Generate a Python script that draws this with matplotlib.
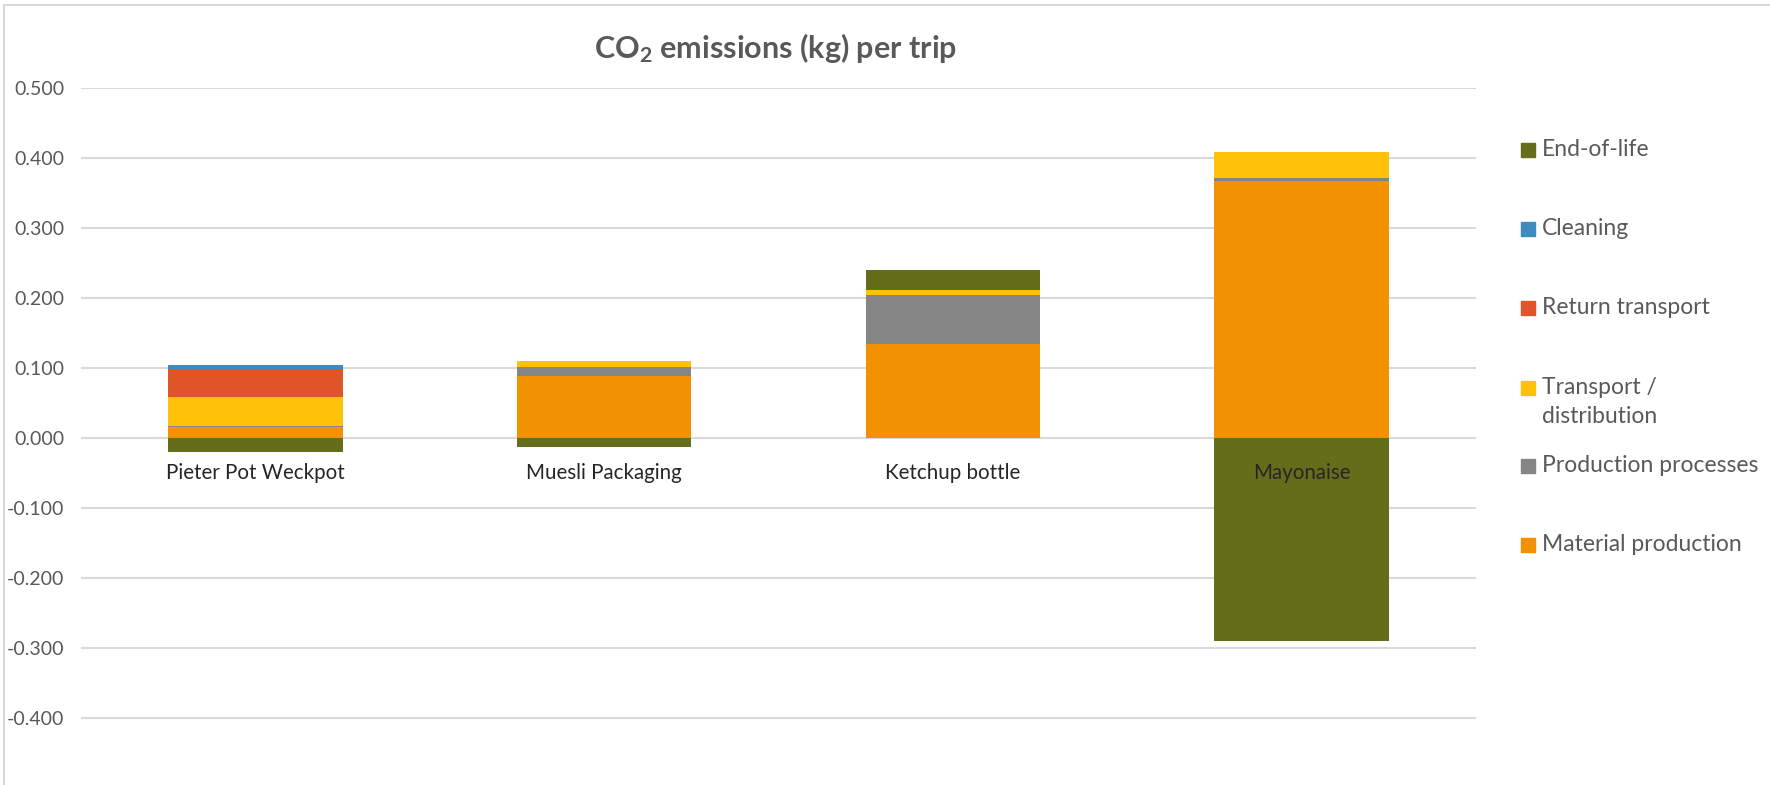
import matplotlib
matplotlib.use("Agg")
import matplotlib.pyplot as plt
import numpy as np
from matplotlib.patches import Rectangle

plt.rcParams['font.family'] = ['Lato', 'DejaVu Sans']
plt.rcParams['mathtext.default'] = 'regular'

categories = ["Pieter Pot Weckpot", "Muesli Packaging", "Ketchup bottle", "Mayonaise"]
series_names = ["Material production", "Production processes", "Transport /\ndistribution",
                "Return transport", "Cleaning", "End-of-life"]
material = [0.016, 0.089, 0.135, 0.367]
production = [0.001, 0.013, 0.070, 0.004]
transport = [0.041, 0.008, 0.007, 0.038]
return_transport = [0.040, 0.0, 0.0, 0.0]
cleaning = [0.006, 0.0, 0.0, 0.0]
end_of_life = [-0.020, -0.013, 0.028, -0.290]
series_values = [material, production, transport, return_transport, cleaning, end_of_life]
colors = ["#F39200", "#858585", "#FFC10A", "#E0542A", "#3D8BBF", "#646D1A"]
yticks = [-0.4, -0.3, -0.2, -0.1, 0.0, 0.1, 0.2, 0.3, 0.4, 0.5]

W, H = 1770, 785
fig = plt.figure(figsize=(W / 100, H / 100), dpi=100)
ax_left, ax_right = 81 / W, 1476 / W
ax_top = 1 - 88 / H
ax = fig.add_axes([ax_left, 0, ax_right - ax_left, ax_top])
ymax = 0.5
ymin = ymax - (H - 88) / 700.0
ax.set_ylim(ymin, ymax)
ax.set_xlim(-0.5, len(categories) - 0.5)
ax.set_axisbelow(False)

x = np.arange(len(categories))
pos_base = np.zeros(len(categories))
neg_base = np.zeros(len(categories))
for vals, col in zip(series_values, colors):
    v = np.array(vals)
    bottoms = np.where(v >= 0, pos_base, neg_base)
    ax.bar(x, v, width=0.5, bottom=bottoms, color=col, edgecolor='none', zorder=2)
    pos_base = pos_base + np.where(v > 0, v, 0)
    neg_base = neg_base + np.where(v < 0, v, 0)

for t in yticks:
    ax.axhline(t, color="#D9D9D9", lw=1.5, zorder=0)

ax.set_yticks(yticks)
ax.set_yticklabels([f"{t:.3f}" for t in yticks])
ax.tick_params(axis='y', length=0, pad=12, labelsize=14, labelcolor="#595959")

ax.set_xticks(x)
ax.set_xticklabels(categories)
ax.spines['bottom'].set_position(('data', 0))
ax.tick_params(axis='x', length=0, pad=18, labelsize=14.8, labelcolor="#262626")
for s in ax.spines.values():
    s.set_visible(False)
ax.set_facecolor('none')

fig.text(776 / W, 1 - 48 / H, "CO$_{2}$ emissions (kg) per trip", ha='center', va='center',
         fontsize=22, fontweight='bold', color="#595959")

# legend (reverse order, top to bottom)
leg_y = [150, 229, 308, 388, 466, 545]
for name, col, yc in zip(series_names[::-1], colors[::-1], leg_y):
    fig.add_artist(Rectangle((1521 / W, 1 - (yc + 7) / H), 14 / W, 14 / H,
                             transform=fig.transFigure, color=col))
    fig.text(1542 / W, 1 - (yc - 11) / H, name, ha='left', va='top', fontsize=16.5,
             color="#595959", linespacing=1.45)

# chart border
fig.add_artist(plt.Line2D([4 / W, 4 / W], [0, 1 - 5 / H], transform=fig.transFigure, color="#D9D9D9", lw=1.5))
fig.add_artist(plt.Line2D([4 / W, 1], [1 - 5 / H, 1 - 5 / H], transform=fig.transFigure, color="#D9D9D9", lw=1.5))

fig.savefig("out.png", dpi=100, facecolor='white')
